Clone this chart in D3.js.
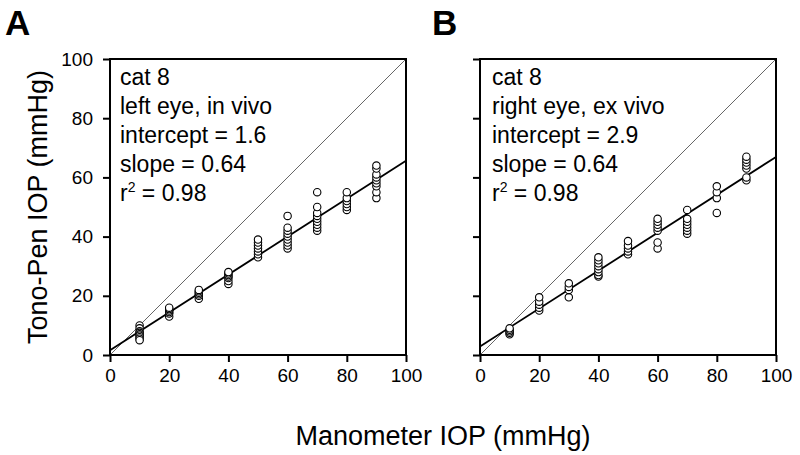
<!DOCTYPE html>
<html><head><meta charset="utf-8">
<script src="https://cdn.jsdelivr.net/npm/d3@7"></script>
<style>body{margin:0;background:#fff}svg{display:block}text{font-family:"Liberation Sans",Arial,sans-serif;fill:#000}</style>
</head><body><svg id="c" width="800" height="455"></svg>
<script>
const xTicks=[0,20,40,60,80,100];
const yTicks=[0,20,40,60,80,100];
const manometerLevels=[10,20,30,40,50,60,70,80,90];
const tonoA=[[10,9,8,7.5,7,6.5,6,5.5,5],[13,14,14.5,15,15.5,16],[19,20,20.5,21,21.5,22],[24,25,26,26.5,27,27.5,28],[33,34,35,36,37,38,39],[36,37,38,39,40,41,42,43,47],[42,43,44,45,46,47,48,50,55],[49,50,51,52,53,55],[53,55,57,58,59,60,61,63,64]];
const tonoB=[[7,7.5,8,8.5,9],[15,16,17,18,19.5],[19.5,22,23,24.2],[26.5,27,28,29,30,31,32,33],[34,35,36,37,38.5],[36,38,42,43,44,45,46],[41,42,43,44,45,46,49],[48,53,55,57],[59,60,63,64,65,66,67]];
const panels=[
 {label:"A",x0:110,lx:5,fit:[1.6,0.64],data:tonoA,showY:true,
  text:["cat 8","left eye, in vivo","intercept = 1.6","slope = 0.64","r2 = 0.98"]},
 {label:"B",x0:480,lx:432,fit:[2.9,0.64],data:tonoB,showY:false,
  text:["cat 8","right eye, ex vivo","intercept = 2.9","slope = 0.64","r2 = 0.98"]}
];
const svg=d3.select("#c");
const W=296,H=296,topY=59;
panels.forEach(p=>{
  const x=d3.scaleLinear().domain([0,100]).range([p.x0,p.x0+W]);
  const y=d3.scaleLinear().domain([0,100]).range([topY+H,topY]);
  const g=svg.append("g");
  const ax=g.append("g").attr("transform",`translate(0,${topY+H})`).call(d3.axisBottom(x).tickValues(xTicks).tickSize(7).tickSizeOuter(0).tickPadding(7));
  const ay=g.append("g").attr("transform",`translate(${p.x0},0)`).call(d3.axisLeft(y).tickValues(yTicks).tickSize(7).tickSizeOuter(0).tickPadding(10));
  [ax,ay].forEach(a=>{a.select(".domain").remove();a.selectAll("line").attr("stroke","#000").attr("stroke-width",2);
    a.selectAll("text").style("font-size","19px").attr("fill","#000");});
  if(!p.showY) ay.selectAll("text").remove();
  g.append("line").attr("x1",x(0)).attr("y1",y(0)).attr("x2",x(100)).attr("y2",y(100)).attr("stroke","#555").attr("stroke-width",0.9);
  g.append("line").attr("x1",x(0)).attr("y1",y(p.fit[0])).attr("x2",x(100)).attr("y2",y(p.fit[0]+p.fit[1]*100)).attr("stroke","#000").attr("stroke-width",1.8);
  g.append("rect").attr("x",p.x0).attr("y",topY).attr("width",W).attr("height",H).attr("fill","none").attr("stroke","#000").attr("stroke-width",2);
  const pts=[];
  p.data.forEach((arr,i)=>arr.forEach(v=>pts.push([manometerLevels[i],v])));
  g.selectAll("circle.pt").data(pts).join("circle").attr("cx",d=>x(d[0])).attr("cy",d=>y(d[1])).attr("r",3.7)
   .attr("fill","#fff").attr("stroke","#000").attr("stroke-width",1.1);
  const tx=p.x0+(p.showY?10:12);
  p.text.forEach((t,i)=>{
    const el=g.append("text").attr("x",tx).attr("y",85+29*i).style("font-size","23px");
    if(t.startsWith("r2")){el.append("tspan").text("r");el.append("tspan").attr("dy",-9).style("font-size","14px").text("2");el.append("tspan").attr("dy",9).text(" = 0.98");}
    else el.text(t);
  });
  svg.append("text").attr("x",p.lx).attr("y",35).style("font-size","35px").style("font-weight","bold").text(p.label);
});
svg.append("text").attr("x",443).attr("y",445).attr("text-anchor","middle").style("font-size","27px").text("Manometer IOP (mmHg)");
svg.append("text").attr("transform","translate(47,207) rotate(-90)").attr("text-anchor","middle").style("font-size","27px").text("Tono-Pen IOP (mmHg)");
</script></body></html>
